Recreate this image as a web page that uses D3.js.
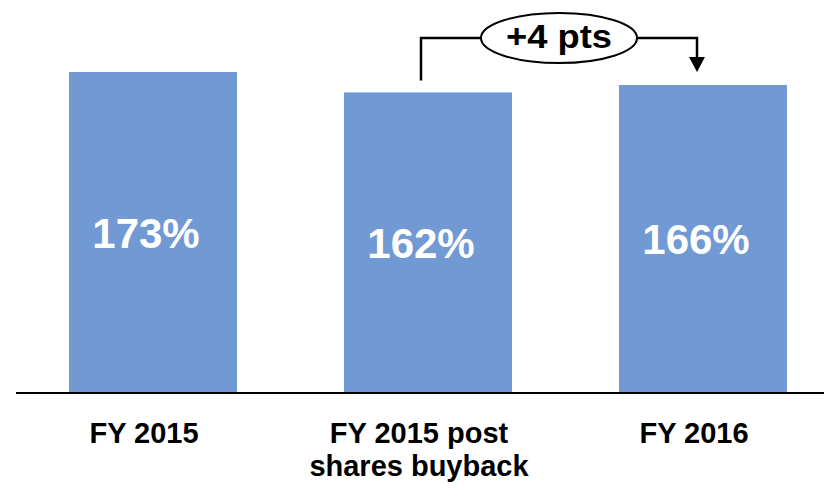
<!DOCTYPE html>
<html>
<head>
<meta charset="utf-8">
<script src="https://cdn.jsdelivr.net/npm/d3@7"></script>
<style>
  html, body { margin: 0; padding: 0; background: #fff; }
  svg { display: block; }
</style>
</head>
<body>
<div id="chart"></div>
<script>
const categories = ["FY 2015", "FY 2015 post shares buyback", "FY 2016"];
const categoryLines = [["FY 2015"], ["FY 2015 post", "shares buyback"], ["FY 2016"]];
const values = [173, 162, 166];
const valueLabels = ["173%", "162%", "166%"];
const deltaLabel = "+4 pts";

function drawChart() {
    const width = 824, height = 490;
    const baseline = 393;
    const font = "'Liberation Sans', Arial, sans-serif";

    const svg = d3.select("#chart")
        .append("svg")
        .attr("width", width)
        .attr("height", height);

    const x = d3.scaleBand()
        .domain(categories)
        .range([15.5, 840.5])
        .paddingInner(0.389)
        .paddingOuter(0.1945);

    const y = d3.scaleLinear()
        .domain([0, 173])
        .range([baseline, 72]);

    const data = categories.map((c, i) => ({ cat: c, value: values[i], label: valueLabels[i], lines: categoryLines[i] }));

    svg.selectAll(".bar")
        .data(data)
        .enter()
        .append("rect")
        .attr("class", "bar")
        .attr("x", d => x(d.cat))
        .attr("y", d => y(d.value))
        .attr("width", x.bandwidth())
        .attr("height", d => baseline - y(d.value))
        .attr("fill", "#7199d3");

    // labels sit a little left of the bar centre, as in the slide
    svg.selectAll(".val")
        .data(data)
        .enter()
        .append("text")
        .attr("class", "val")
        .attr("x", d => x(d.cat) + x.bandwidth() / 2 - 7)
        .attr("y", d => (y(d.value) + baseline) / 2 + 15)
        .attr("text-anchor", "middle")
        .style("font-family", font)
        .style("font-weight", "bold")
        .style("font-size", "42px")
        .style("fill", "#fff")
        .text(d => d.label);

    // baseline
    svg.append("line")
        .attr("x1", 16)
        .attr("x2", width)
        .attr("y1", baseline)
        .attr("y2", baseline)
        .attr("stroke", "#000")
        .attr("stroke-width", 2);

    const labels = svg.selectAll(".cat")
        .data(data)
        .enter()
        .append("text")
        .attr("class", "cat")
        .attr("text-anchor", "middle")
        .style("font-family", font)
        .style("font-weight", "bold")
        .style("font-size", "29px")
        .style("fill", "#000");

    labels.selectAll("tspan")
        .data(d => d.lines.map(l => ({ l, cx: x(d.cat) + x.bandwidth() / 2 - 9 })))
        .enter()
        .append("tspan")
        .attr("x", d => d.cx)
        .attr("y", (d, i) => 443 + i * 33)
        .text(d => d.l);

    // delta bracket between bar 2 and bar 3
    const x1 = x(categories[1]) + x.bandwidth() / 2 - 7;
    const x2 = x(categories[2]) + x.bandwidth() / 2 - 6;
    const topY = y(173) - 34;
    const cx = (x1 + x2) / 2;
    const rx = 78, ry = 25;

    const g = svg.append("g")
        .attr("fill", "none")
        .attr("stroke", "#000")
        .attr("stroke-width", 2.5);

    g.append("path")
        .attr("d", `M${x1},${y(values[1]) - 12}V${topY}H${cx - rx}`);

    g.append("path")
        .attr("d", `M${cx + rx},${topY}H${x2}V${y(values[2]) - 26}`);

    svg.append("path")
        .attr("d", `M${x2 - 8},${y(values[2]) - 28}L${x2 + 8},${y(values[2]) - 28}L${x2},${y(values[2]) - 13}Z`)
        .attr("fill", "#000");

    svg.append("ellipse")
        .attr("cx", cx)
        .attr("cy", topY)
        .attr("rx", rx)
        .attr("ry", ry)
        .attr("fill", "#fff")
        .attr("stroke", "#000")
        .attr("stroke-width", 2);

    svg.append("text")
        .attr("x", cx)
        .attr("y", topY + 10)
        .attr("text-anchor", "middle")
        .attr("textLength", 106)
        .attr("lengthAdjust", "spacingAndGlyphs")
        .style("font-family", font)
        .style("font-weight", "bold")
        .style("font-size", "33px")
        .style("fill", "#000")
        .text(deltaLabel);
}

window.addEventListener("load", drawChart);
</script>
</body>
</html>
